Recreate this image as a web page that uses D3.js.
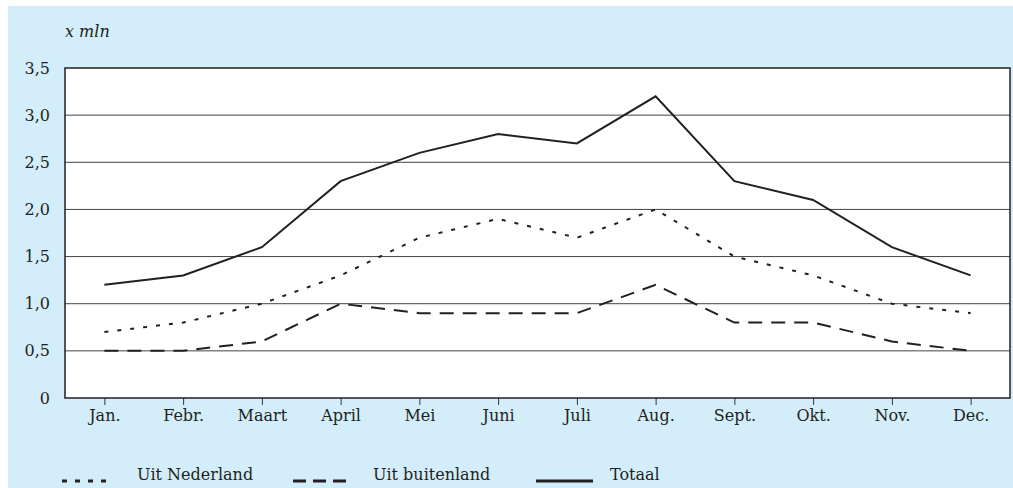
<!DOCTYPE html>
<html><head><meta charset="utf-8">
<script src="https://cdn.jsdelivr.net/npm/d3@7"></script>
<style>
html,body{margin:0;padding:0;background:#fff;}
svg{display:block;}
text{font-family:"DejaVu Serif",serif;fill:#231f20;}
</style></head>
<body>
<svg id="c" width="1013" height="488"></svg>
<script>
const months = ["Jan.","Febr.","Maart","April","Mei","Juni","Juli","Aug.","Sept.","Okt.","Nov.","Dec."];
const totaal = [1.2,1.3,1.6,2.3,2.6,2.8,2.7,3.2,2.3,2.1,1.6,1.3];
const uitNederland = [0.7,0.8,1.0,1.3,1.7,1.9,1.7,2.0,1.5,1.3,1.0,0.9];
const uitBuitenland = [0.5,0.5,0.6,1.0,0.9,0.9,0.9,1.2,0.8,0.8,0.6,0.5];
const yTicks = [0,0.5,1.0,1.5,2.0,2.5,3.0,3.5];
const yTickLabels = ["0","0,5","1,0","1,5","2,0","2,5","3,0","3,5"];
const seriesNames = ["Uit Nederland","Uit buitenland","Totaal"];

const FS = 16;
const svg = d3.select("#c");
svg.append("rect").attr("x",8).attr("y",6).attr("width",1005).attr("height",482).attr("fill","#d3eefa");

const L=65, R=1010, T=68, B=398;
const x = d3.scalePoint().domain(months).range([L,R]).padding(0.5);
const y = d3.scaleLinear().domain([0,3.5]).range([B,T]);

svg.append("rect").attr("x",L).attr("y",T).attr("width",R-L).attr("height",B-T).attr("fill","#fff");

// grid
svg.append("g").selectAll("line").data(yTicks.slice(1,-1)).join("line")
  .attr("x1",L).attr("x2",R).attr("y1",d=>y(d)).attr("y2",d=>y(d))
  .attr("stroke","#444").attr("stroke-width",1);

// y labels
const yAxis = d3.axisLeft(y).tickValues(yTicks).tickSize(0).tickPadding(15)
  .tickFormat((d,i)=>yTickLabels[i]);
const gy = svg.append("g").attr("transform",`translate(${L},0)`).call(yAxis);
gy.select(".domain").remove();
gy.selectAll("text").attr("font-size",FS).attr("font-family","DejaVu Serif").attr("fill","#231f20");

// x axis
const xAxis = d3.axisBottom(x).tickSize(7).tickPadding(5);
const gx = svg.append("g").attr("transform",`translate(0,${B})`).call(xAxis);
gx.select(".domain").remove();
gx.selectAll(".tick line").attr("stroke","#333");
gx.selectAll("text").attr("font-size",FS).attr("font-family","DejaVu Serif").attr("fill","#231f20");

// frame
svg.append("rect").attr("x",L).attr("y",T).attr("width",R-L).attr("height",B-T)
  .attr("fill","none").attr("stroke","#231f20").attr("stroke-width",1.5);

const line = d3.line().x((d,i)=>x(months[i])).y(d=>y(d));
const styles = [
  {data:uitNederland, dash:"4,9"},
  {data:uitBuitenland, dash:"14,9"},
  {data:totaal, dash:null}
];
styles.forEach(s=>{
  svg.append("path").datum(s.data).attr("d",line).attr("fill","none")
    .attr("stroke","#231f20").attr("stroke-width",2)
    .attr("stroke-dasharray",s.dash);
});

svg.append("text").attr("x",65).attr("y",37).attr("font-size",FS).attr("font-style","italic").text("x mln");

// legend
const legX = [[62,108,137],[293,352,373],[536,593,610]];
seriesNames.forEach((n,i)=>{
  const [a,b,t] = legX[i];
  svg.append("line").attr("x1",a).attr("x2",b).attr("y1",481).attr("y2",481)
    .attr("stroke","#231f20").attr("stroke-width",3)
    .attr("stroke-dasharray",styles[i].dash ? (i===0?"5,8":"13,7") : null);
  svg.append("text").attr("x",t).attr("y",480).attr("font-size",FS).text(n);
});
</script>
</body></html>
